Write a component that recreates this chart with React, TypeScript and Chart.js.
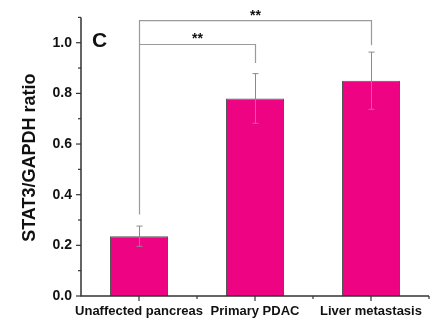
import React, { useEffect, useRef } from "react";
import { Chart, registerables } from "chart.js";

Chart.register(...registerables);

const categories = ["Unaffected pancreas", "Primary PDAC", "Liver metastasis"];
const means = [0.236, 0.78, 0.85];
const errors = [0.04, 0.098, 0.113];
const yTickLabels = ["0.0", "0.2", "0.4", "0.6", "0.8", "1.0"];
// significance brackets
const bracketFrom = [0, 0];
const bracketTo = [1, 2];
const bracketLevel = [0.993, 1.087];
const bracketLeftEnd = [0.322, 0.993];
const bracketRightEnd = [0.92, 0.99];
const bracketLabel = ["**", "**"];
const panelLabel = "C";
const yTitle = "STAT3/GAPDH ratio";

const FONT = "'Liberation Sans', Arial, Helvetica, sans-serif";

const overlay = {
  id: "overlay",
  afterDatasetsDraw(chart: any) {
    const ctx = chart.ctx;
    const x = chart.scales.x;
    const y = chart.scales.y;
    const meta = chart.getDatasetMeta(0);
    const area = chart.chartArea;
    ctx.save();
    // error bars
    ctx.strokeStyle = "#8a8a8a";
    ctx.lineWidth = 1;
    means.forEach((m, i) => {
      const px = Math.round(meta.data[i].x) + 0.5;
      const t = y.getPixelForValue(m + errors[i]);
      const b = y.getPixelForValue(m - errors[i]);
      ctx.beginPath();
      ctx.moveTo(px, t);
      ctx.lineTo(px, b);
      ctx.moveTo(px - 3, t);
      ctx.lineTo(px + 3, t);
      ctx.moveTo(px - 3, b);
      ctx.lineTo(px + 3, b);
      ctx.stroke();
    });
    // brackets
    ctx.strokeStyle = "#9a9a9a";
    ctx.lineWidth = 1.2;
    bracketFrom.forEach((f, k) => {
      const x1 = Math.round(meta.data[f].x) + 0.5;
      const x2 = Math.round(meta.data[bracketTo[k]].x) + 0.5;
      const yl = y.getPixelForValue(bracketLevel[k]);
      ctx.beginPath();
      ctx.moveTo(x1, y.getPixelForValue(bracketLeftEnd[k]));
      ctx.lineTo(x1, yl);
      ctx.lineTo(x2, yl);
      ctx.lineTo(x2, y.getPixelForValue(bracketRightEnd[k]));
      ctx.stroke();
      ctx.fillStyle = "#111";
      ctx.font = `bold 14px ${FONT}`;
      ctx.textAlign = "center";
      ctx.textBaseline = "bottom";
      ctx.fillText(bracketLabel[k], (x1 + x2) / 2, yl + 2);
    });
    // axes
    ctx.strokeStyle = "#333";
    ctx.lineWidth = 1.5;
    ctx.beginPath();
    ctx.moveTo(area.left, area.top);
    ctx.lineTo(area.left, area.bottom);
    ctx.lineTo(area.right, area.bottom);
    ctx.stroke();
    ctx.lineWidth = 1.2;
    // y ticks
    for (let v = 0; v <= 11; v++) {
      const py = y.getPixelForValue(v / 10);
      const len = v % 2 === 0 ? 5 : 3;
      ctx.beginPath();
      ctx.moveTo(area.left, py);
      ctx.lineTo(area.left - len, py);
      ctx.stroke();
    }
    // x ticks
    const n = categories.length;
    for (let i = 0; i < n; i++) {
      const px = meta.data[i].x;
      ctx.beginPath();
      ctx.moveTo(px, area.bottom);
      ctx.lineTo(px, area.bottom + 5);
      ctx.stroke();
      const bx = x.getPixelForValue(i) + (x.getPixelForValue(1) - x.getPixelForValue(0)) / 2;
      ctx.beginPath();
      ctx.moveTo(bx, area.bottom);
      ctx.lineTo(bx, area.bottom + 3);
      ctx.stroke();
    }
    // panel label
    ctx.fillStyle = "#111";
    ctx.font = `bold 21px ${FONT}`;
    ctx.textAlign = "left";
    ctx.textBaseline = "middle";
    ctx.fillText(panelLabel, 92, 41);
    // y title
    ctx.save();
    ctx.translate(30, (area.top + area.bottom) / 2 + 1);
    ctx.rotate(-Math.PI / 2);
    ctx.font = `bold 18px ${FONT}`;
    ctx.textAlign = "center";
    ctx.textBaseline = "middle";
    ctx.fillText(yTitle, 0, 0);
    ctx.restore();
    ctx.restore();
  },
};

export default function App() {
  const ref = useRef<HTMLCanvasElement>(null);
  useEffect(() => {
    if (!ref.current) return;
    const chart = new Chart(ref.current, {
      type: "bar",
      data: {
        labels: categories,
        datasets: [
          {
            data: means,
            backgroundColor: "#EE0382",
            borderColor: "#555",
            borderWidth: 1,
            barPercentage: 0.5,
            categoryPercentage: 1,
          },
        ],
      },
      options: {
        responsive: false,
        animation: false,
        layout: { padding: { top: 14, right: 13, left: 0, bottom: 0 } },
        plugins: { legend: { display: false }, tooltip: { enabled: false } },
        scales: {
          x: {
            offset: true,
            grid: { display: false, drawTicks: false },
            border: { display: false },
            ticks: {
              color: "#111",
              font: { family: FONT, size: 13, weight: "bold" },
              padding: 8,
              maxRotation: 0,
              autoSkip: false,
            },
            afterFit: (s: any) => {
              s.height = 25;
            },
          },
          y: {
            min: 0,
            max: 1.1,
            grid: { display: false, drawTicks: false },
            border: { display: false },
            ticks: {
              stepSize: 0.1,
              autoSkip: false,
              color: "#111",
              padding: 9,
              font: { family: FONT, size: 14, weight: "bold" },
              callback: (v: any) => {
                const k = Math.round(Number(v) * 10);
                return k % 2 === 0 ? yTickLabels[k / 2] : "";
              },
            },
            afterFit: (s: any) => {
              s.width = 81;
            },
          },
        },
      },
      plugins: [overlay],
    });
    return () => chart.destroy();
  }, []);
  return (
    <div style={{ position: "absolute", left: 0, top: 0, width: 442, height: 321, background: "#fff" }}>
      <canvas ref={ref} width={442} height={321} style={{ display: "block" }} />
    </div>
  );
}
